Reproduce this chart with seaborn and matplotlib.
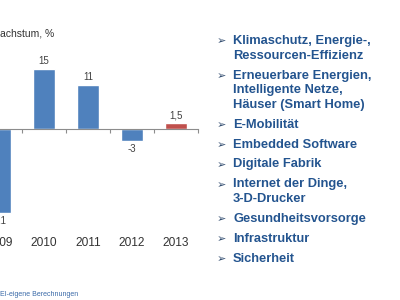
import matplotlib
matplotlib.use("Agg")
import matplotlib.pyplot as plt
import seaborn as sns
import pandas as pd

years = ["2009", "2010", "2011", "2012", "2013"]
values = [-21, 15, 11, -3, 1.5]
labels = ["-21", "15", "11", "-3", "1,5"]
kinds = ["Ist", "Ist", "Ist", "Ist", "Prognose"]
title = "achstum, %"
items = [
    ["Klimaschutz, Energie-,", "Ressourcen-Effizienz"],
    ["Erneuerbare Energien,", "Intelligente Netze,", "Häuser (Smart Home)"],
    ["E-Mobilität"],
    ["Embedded Software"],
    ["Digitale Fabrik"],
    ["Internet der Dinge,", "3-D-Drucker"],
    ["Gesundheitsvorsorge"],
    ["Infrastruktur"],
    ["Sicherheit"],
]
source = "EI-eigene Berechnungen"

sns.set_theme(style="white")
plt.rcParams['font.family'] = ['Liberation Sans', 'DejaVu Sans']

df = pd.DataFrame({"year": years, "value": values, "kind": kinds})

W, H = 400, 300
fig = plt.figure(figsize=(4, 3), dpi=100)
# axes: left edge off-canvas so the 2009 bar is cut as in the reference
ax = fig.add_axes([-22 / W, 75 / H, 220 / W, 165 / H])
sns.barplot(data=df, x="year", y="value", hue="kind",
            palette={"Ist": "#4F81BD", "Prognose": "#C0504D"},
            width=0.5, dodge=False, legend=False, ax=ax, saturation=1)
ax.set_xlim(-0.5, 4.5)
ax.set_ylim(-24, 17.25)
ax.set_xlabel("")
ax.set_ylabel("")
ax.set_yticks([])
for s in ["left", "right", "top"]:
    ax.spines[s].set_visible(False)
ax.spines["bottom"].set_position(("data", 0))
ax.spines["bottom"].set_color("#8c8c8c")
ax.spines["bottom"].set_linewidth(0.8)
ax.set_xticks([i + 0.5 for i in range(len(years))], minor=True)
ax.tick_params(axis="x", which="minor", length=3, color="#8c8c8c",
               width=0.8, direction="out", bottom=True)
ax.tick_params(axis="x", which="major", length=0, pad=78,
               labelsize=8.6, labelcolor="#333333")

for cont in ax.containers:
    lbls = []
    for bar in cont:
        h = bar.get_height()
        idx = values.index(h) if h in values else None
        lbls.append(labels[idx] if idx is not None else "")
    ax.bar_label(cont, labels=lbls, padding=2, fontsize=7, color="#404040")

fig.text(0, 1 - 34 / H, title, fontsize=7.5, color="#333333",
         ha="left", va="center")

# right list
blue = "#23548f"
y = 41
for lines in items:
    fig.text(217 / W, 1 - (y + 0.5) / H, "➢", family=["DejaVu Sans"],
             fontsize=8, color="#2f4a6e", ha="left", va="center")
    for j, line in enumerate(lines):
        fig.text(233 / W, 1 - y / H, line, fontsize=9.3, fontweight="bold",
                 color=blue, ha="left", va="center")
        y += 14.5
    y += 5.5

fig.text(0, 1 - 295 / H, source, fontsize=5, color="#3a6aa8",
         ha="left", va="center")

fig.savefig("out.png", dpi=100, facecolor="white")
